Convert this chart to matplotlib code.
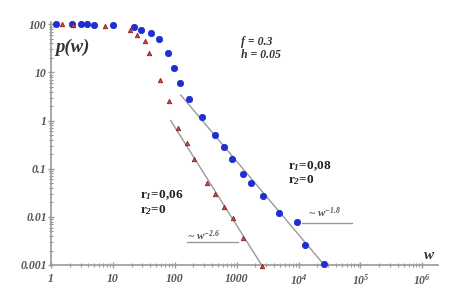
import numpy as np
import matplotlib
matplotlib.use("Agg")
import matplotlib.pyplot as plt
from matplotlib.ticker import FixedLocator, LogLocator, NullFormatter

# data
w_blue = [1.2, 2.2, 3.0, 3.8, 5.0, 10, 22, 29, 41, 55, 77, 96, 120, 168, 274, 444,
          620, 830, 1250, 1690, 2640, 4750, 9600, 12500, 26000]
p_blue = [100, 100, 100, 100, 98, 98, 87, 75, 65, 49, 25, 12.3, 6.0, 2.8, 1.17, 0.50,
          0.28, 0.16, 0.078, 0.050, 0.027, 0.012, 0.0078, 0.0026, 0.00105]

w_red = [1.5, 2.3, 7.4, 19, 25, 33, 38, 57, 80, 111, 155, 203, 330, 440, 620, 860,
         1250, 2530]
p_red = [100, 99, 91, 75, 59, 44, 25, 6.9, 2.5, 0.71, 0.34, 0.16, 0.050, 0.030,
         0.016, 0.0095, 0.0036, 0.00095]

# fitted power-law guide lines (end points)
fit_red_w = [86, 2530]
fit_red_p = [1.0, 0.001]
fit_blue_w = [125, 26000]
fit_blue_p = [3.4, 0.001]

# underline segments for the slope labels
lab_red_w = [156, 1040]
lab_red_p = [0.003, 0.003]
lab_blue_w = [11200, 74000]
lab_blue_p = [0.0074, 0.0074]

xtick_vals = [1, 10, 100, 1000, 1e4, 1e5, 1e6]
xtick_labels = ["1", "10", "100", "1000", r"$\mathbf{10^4}$", r"$\mathbf{10^5}$", r"$\mathbf{10^6}$"]
ytick_vals = [0.001, 0.01, 0.1, 1, 10, 100]
ytick_labels = ["0.001", "0.01", "0.1", "1", "10", "100"]

serif = "Liberation Serif"
plt.rcParams["mathtext.fontset"] = "custom"
plt.rcParams["mathtext.rm"] = "Liberation Serif:italic:bold"
plt.rcParams["mathtext.it"] = "Liberation Serif:italic:bold"
plt.rcParams["mathtext.bf"] = "Liberation Serif:italic:bold"

fig = plt.figure(figsize=(4.61, 2.95), dpi=100)
ax = fig.add_axes([0.1106, 0.1017, 0.839, 0.824])
ax.set_xscale("log")
ax.set_yscale("log")
ax.set_xlim(1, 10 ** 6.25)
ax.set_ylim(0.001, 10 ** 2.05)

grey = "#9a9a9a"
ax.plot(fit_red_w, fit_red_p, color=grey, lw=1.0, zorder=1)
ax.plot(fit_blue_w, fit_blue_p, color=grey, lw=1.0, zorder=1)
ax.plot(lab_red_w, lab_red_p, color=grey, lw=1.0, zorder=1)
ax.plot(lab_blue_w, lab_blue_p, color=grey, lw=1.0, zorder=1)

ax.plot(w_blue, p_blue, "o", color="#1f2fd8", ms=4.6, mec="#1a28c0", mew=0.5,
        zorder=3, clip_on=False)
ax.plot(w_red, p_red, "^", color="#d04848", ms=3.2, mec="#8a2020", mew=0.6,
        zorder=4, clip_on=False)

for s in ["top", "right"]:
    ax.spines[s].set_visible(False)
for s in ["left", "bottom"]:
    ax.spines[s].set_color(grey)
    ax.spines[s].set_linewidth(1.2)

ax.xaxis.set_major_locator(FixedLocator(xtick_vals))
ax.set_xticklabels(xtick_labels)
ax.yaxis.set_major_locator(FixedLocator(ytick_vals))
ax.set_yticklabels(ytick_labels)
ax.xaxis.set_minor_locator(LogLocator(base=10, subs=np.arange(2, 10) * 1.0, numticks=20))
ax.yaxis.set_minor_locator(LogLocator(base=10, subs=np.arange(2, 10) * 1.0, numticks=20))
ax.xaxis.set_minor_formatter(NullFormatter())
ax.yaxis.set_minor_formatter(NullFormatter())
ax.tick_params(which="major", direction="inout", length=4, color=grey, width=1)
ax.tick_params(which="minor", direction="inout", length=2.5, color=grey, width=0.8)
ax.tick_params(axis="x", pad=4)
ax.tick_params(axis="y", pad=1)
for lab in ax.get_xticklabels() + ax.get_yticklabels():
    lab.set_fontfamily(serif)
    lab.set_fontstyle("italic")
    lab.set_fontweight("bold")
    lab.set_fontsize(8.5)
    lab.set_color("#555555")

txt = dict(family=serif, color="#333333")
ax.text(0.012, 0.875, "p(w)", transform=ax.transAxes, fontsize=13.5, style="italic",
        weight="bold", **txt)
ax.text(0.964, 0.025, "w", transform=ax.transAxes, fontsize=11, style="italic",
        weight="bold", **txt)
ax.text(0.49, 0.85, "f = 0.3\nh = 0.05", transform=ax.transAxes, fontsize=8.5,
        style="italic", weight="bold", linespacing=1.2, **txt)
ax.text(0.23, 0.215, r"r$_1$=0,06" "\n" r"r$_2$=0", transform=ax.transAxes, fontsize=9.5,
        weight="bold", linespacing=1.1, family=serif, color="#222222")
ax.text(0.612, 0.335, r"r$_1$=0,08" "\n" r"r$_2$=0", transform=ax.transAxes, fontsize=9.5,
        weight="bold", linespacing=1.1, family=serif, color="#222222")
ax.text(0.352, 0.105, r"~ w$^{-2.6}$", transform=ax.transAxes, fontsize=8,
        style="italic", weight="bold", family=serif, color="#555555")
ax.text(0.665, 0.196, r"~ w$^{-1.8}$", transform=ax.transAxes, fontsize=8,
        style="italic", weight="bold", family=serif, color="#555555")

fig.savefig("out.png", dpi=100)
